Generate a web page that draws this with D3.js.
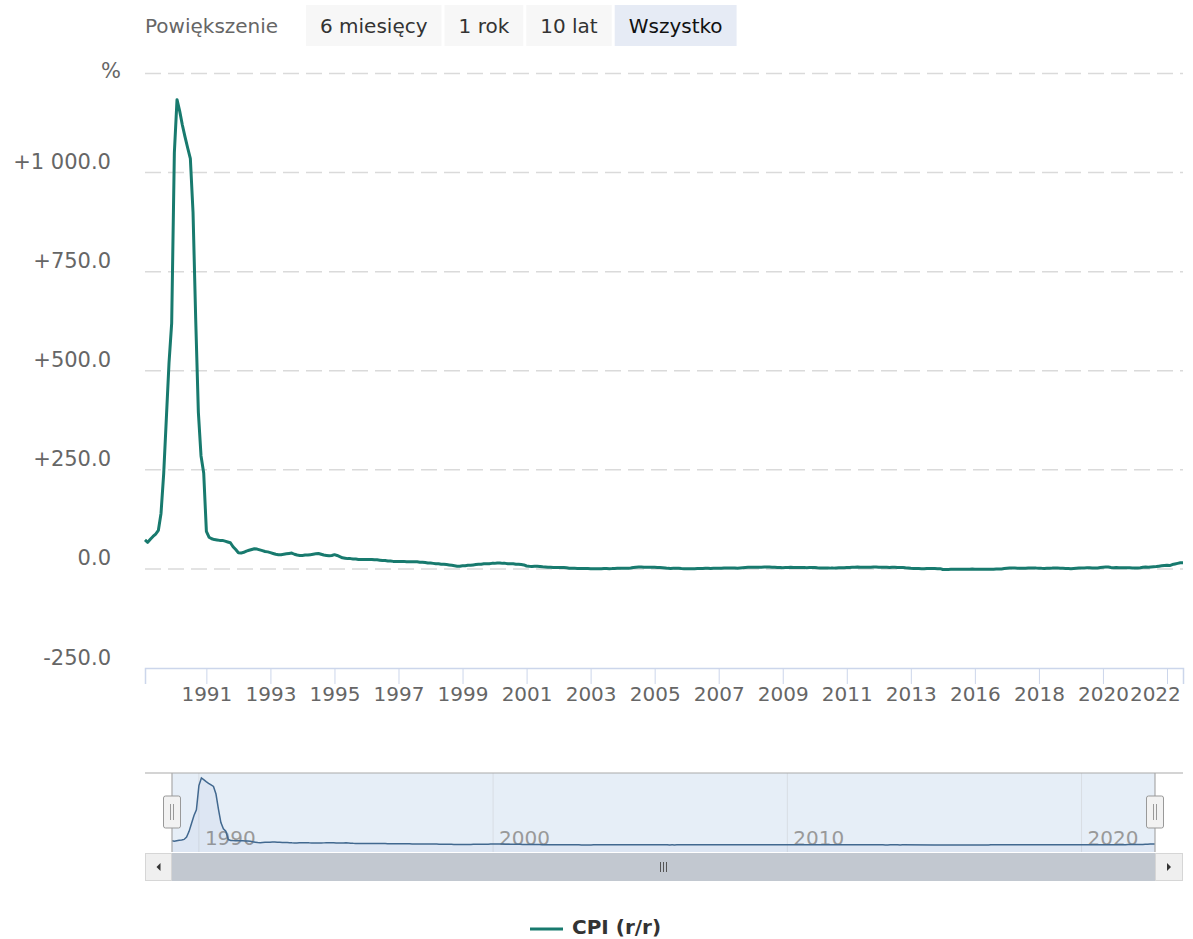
<!DOCTYPE html>
<html><head><meta charset="utf-8">
<script src="https://cdn.jsdelivr.net/npm/d3@7"></script>
<style>
body{margin:0;background:#fff}
svg{display:block}
text{font-family:"DejaVu Sans",sans-serif}
</style>
</head><body>
<svg id="chart" width="1193" height="939"></svg>
<script>
// ---------- DATA ----------
const seriesName = "CPI (r/r)";
const firstMonthOf1989 = 2; // series starts in February 1989
const cpiYears = [1989,1990,1991,1992,1993,1994,1995,1996,1997,1998,1999,2000,2001,2002,2003,2004,2005,2006,2007,2008,2009,2010,2011,2012,2013,2015,2016,2017,2018,2019,2020,2021,2022];
const cpi1989 = [73,67,75,82,88,97,140,240,380,520,620];
const cpi1990 = [1050,1184,1155,1120,1090,1062,1035,900,630,395,285,242];
const cpi1991 = [95,80,76,74,73,72,72,70,68,66,56,49];
const cpi1992 = [41,40,42,45,47,49,51,50,48,46,44,43];
const cpi1993 = [41,39,37,36,36,37,38,39,40,37,35,34];
const cpi1994 = [34,35,35,36,37,38,39,37,35,34,33,34];
const cpi1995 = [36,34,31,28,27,26,26,25,25,24,24,24];
const cpi1996 = [24,24,24,23,23,22,21,21,20,20,19,19];
const cpi1997 = [19,19,19,18,18,18,18,18,17,17,16,15];
const cpi1998 = [15,14,13,13,12,12,11,10,9,8,7,7];
const cpi1999 = [8,8,9,9,10,11,12,12,13,13,13,14];
const cpi2000 = [14,15,15,14,14,13,13,13,12,12,11,10];
const cpi2001 = [7.4,6.6,6.2,6.6,6.9,6.2,5.2,5.1,4.3,4.0,3.6,3.6];
const cpi2002 = [3.5,3.5,3.3,3.0,1.9,1.6,1.4,1.3,1.3,1.1,0.9,0.8];
const cpi2003 = [0.5,0.5,0.6,0.3,0.4,0.8,0.8,0.7,0.9,1.3,1.6,1.7];
const cpi2004 = [1.6,1.6,1.7,2.2,3.4,4.4,4.6,4.6,4.4,4.5,4.5,4.4];
const cpi2005 = [4.0,3.6,3.4,3.0,2.5,1.4,1.3,1.6,1.8,1.6,1.0,0.7];
const cpi2006 = [0.6,0.7,0.4,0.7,0.9,0.8,1.1,1.6,1.6,1.2,1.4,1.4];
const cpi2007 = [1.6,1.9,2.5,2.3,2.3,2.6,2.3,1.5,2.3,3.0,3.6,4.0];
const cpi2008 = [4.3,4.2,4.1,4.0,4.4,4.6,4.8,4.8,4.5,4.2,3.7,3.3];
const cpi2009 = [2.8,3.3,3.6,4.0,3.6,3.5,3.6,3.7,3.4,3.1,3.3,3.5];
const cpi2010 = [3.5,2.9,2.6,2.4,2.2,2.3,2.0,2.0,2.5,2.8,2.7,3.1];
const cpi2011 = [3.6,3.6,4.3,4.5,5.0,4.2,4.1,4.3,3.9,4.3,4.8,4.6];
const cpi2012 = [4.1,4.3,3.9,4.0,3.6,4.3,4.0,3.8,3.8,3.4,2.8,2.4];
const cpi2013 = [1.7,1.3,1.0,0.8,0.5,0.2,1.1,1.1,1.0,0.8,0.6,0.7];
const cpi2015 = [-1.4,-1.6,-1.5,-1.1,-0.9,-0.8,-0.7,-0.6,-0.8,-0.7,-0.6,-0.5];
const cpi2016 = [-0.9,-0.8,-0.9,-1.1,-0.9,-0.8,-0.9,-0.8,-0.5,-0.2,0.0,0.8];
const cpi2017 = [1.7,2.2,2.0,2.0,1.9,1.5,1.7,1.8,2.2,2.1,2.5,2.1];
const cpi2018 = [1.9,1.4,1.3,1.6,1.7,2.0,2.0,2.0,1.9,1.8,1.3,1.1];
const cpi2019 = [0.7,1.2,1.7,2.2,2.4,2.6,2.9,2.9,2.6,2.5,2.6,3.4];
const cpi2020 = [4.3,4.7,4.6,3.4,2.9,3.3,3.0,2.9,3.2,3.1,3.0,2.4];
const cpi2021 = [2.6,2.4,3.2,4.3,4.7,4.4,5.0,5.5,5.9,6.8,7.8,8.6];
const cpi2022 = [9.4,8.5,11.0,12.4,13.9,15.5,15.6];
const cpiRows = [cpi1989,cpi1990,cpi1991,cpi1992,cpi1993,cpi1994,cpi1995,cpi1996,cpi1997,cpi1998,cpi1999,cpi2000,cpi2001,cpi2002,cpi2003,cpi2004,cpi2005,cpi2006,cpi2007,cpi2008,cpi2009,cpi2010,cpi2011,cpi2012,cpi2013,cpi2015,cpi2016,cpi2017,cpi2018,cpi2019,cpi2020,cpi2021,cpi2022];

const yTicks = [-250, 0, 250, 500, 750, 1000, 1250];
const yTopLabel = "%";
const xTickYears = [1991,1993,1995,1997,1999,2001,2003,2005,2007,2009,2011,2013,2016,2018,2020,2022];
const navTickYears = [1990,2000,2010,2020];
const rangeLabel = "Powiększenie";
const rangeButtons = ["6 miesięcy","1 rok","10 lat","Wszystko"];
const selectedButton = 3;

// ---------- BUILD POINTS ----------
const data = [];
cpiYears.forEach((yr, i) => {
  const start = (yr === 1989) ? firstMonthOf1989 - 1 : 0;
  cpiRows[i].forEach((v, j) => data.push({date: new Date(yr, start + j, 1), value: v}));
});
data.forEach((d, i) => d.idx = i);

// ---------- LAYOUT ----------
const plot = {left: 145, right: 1183, top: 73.5, bottom: 668};
const nav = {left: 172, right: 1155, top: 773, bottom: 852};
const lineColor = "#187a6e";
const svg = d3.select("#chart");

// ---------- RANGE SELECTOR ----------
svg.append("text").attr("x", 145).attr("y", 33).attr("fill", "#666").attr("font-size", 20).text(rangeLabel);
let bx = 306;
rangeButtons.forEach((lab, i) => {
  const g = svg.append("g");
  const t = g.append("text").attr("y", 33).attr("font-size", 20)
    .attr("fill", i === selectedButton ? "#111" : "#333").text(lab);
  const tw = t.node().getComputedTextLength();
  const bw = tw + 28;
  g.insert("rect", "text").attr("x", bx).attr("y", 5).attr("width", bw).attr("height", 41)
    .attr("fill", i === selectedButton ? "#e6ebf5" : "#f7f7f7");
  t.attr("x", bx + bw / 2).attr("text-anchor", "middle");
  bx += bw + 3;
});

// ---------- SCALES ----------
const x = d3.scaleLinear().domain([0, data.length - 1]).range([plot.left, plot.right]);
const y = d3.scaleLinear().domain([yTicks[0], yTicks[yTicks.length - 1]]).range([plot.bottom, plot.top]);

const loc = d3.formatLocale({decimal: ".", thousands: " ", grouping: [3], currency: ["", ""], minus: "-"});
const fmtSigned = loc.format("+,.1f");
const fmtPlain = loc.format(",.1f");
const yFmt = v => v === yTicks[yTicks.length - 1] ? yTopLabel : (v > 0 ? fmtSigned(v) : fmtPlain(v));

// gridlines
const grid = svg.append("g");
yTicks.forEach(v => {
  if (v === yTicks[0]) return;
  grid.append("line").attr("x1", plot.left).attr("x2", plot.right)
    .attr("y1", y(v)).attr("y2", y(v))
    .attr("stroke", "#dadada").attr("stroke-width", 1.5).attr("stroke-dasharray", "16,7");
});

// y axis labels
const yAxis = d3.axisLeft(y).tickValues(yTicks).tickFormat(yFmt).tickSize(0).tickPadding(0);
const yg = svg.append("g").attr("transform", `translate(111,0)`).call(yAxis);
yg.select(".domain").remove();
yg.selectAll("text").attr("font-size", 21).attr("fill", "#666")
  .attr("font-family", '"DejaVu Sans",sans-serif')
  .attr("dy", null)
  .attr("y", v => v === yTicks[yTicks.length - 1] ? 4 : -4)
  .attr("x", v => v === yTicks[yTicks.length - 1] ? 10 : 0);

// x axis
const tickIdx = xTickYears.map(yr => data.find(d => d.date.getFullYear() === yr).idx);
const xAxis = d3.axisBottom(x).tickValues(tickIdx)
  .tickFormat(i => String(data[i].date.getFullYear())).tickSize(16).tickPadding(3);
const xg = svg.append("g").attr("transform", `translate(0,${plot.bottom})`).call(xAxis);
xg.select(".domain").attr("stroke", "#ccd6eb").attr("stroke-width", 1.5);
xg.selectAll(".tick line").attr("stroke", "#ccd6eb").attr("stroke-width", 1);
xg.selectAll("text").attr("font-size", 20).attr("fill", "#666")
  .attr("font-family", '"DejaVu Sans",sans-serif');
// justify the last label so it does not run over the previous one / plot edge
let prevRight = -Infinity;
xg.selectAll(".tick").each(function(i) {
  const t = d3.select(this).select("text");
  const w = t.node().getComputedTextLength();
  const cx = x(i);
  let left = cx - w / 2;
  if (left + w > plot.right - 10) left = plot.right - 10 - w;
  if (left < prevRight + 1) left = prevRight + 1;
  t.attr("x", left + w / 2 - cx);
  prevRight = left + w;
});

// main line
const line = d3.line().x(d => x(d.idx)).y(d => y(d.value)).curve(d3.curveLinear);
svg.append("path").datum(data).attr("d", line).attr("fill", "none")
  .attr("stroke", lineColor).attr("stroke-width", 3).attr("stroke-linejoin", "round");

// ---------- NAVIGATOR ----------
const xn = d3.scaleTime().domain(d3.extent(data, d => d.date)).range([nav.left, nav.right]);
const yn = d3.scaleLinear().domain(d3.extent(data, d => d.value)).range([845, 778]);
const ng = svg.append("g");
ng.append("rect").attr("x", nav.left).attr("y", nav.top).attr("width", nav.right - nav.left)
  .attr("height", nav.bottom - nav.top).attr("fill", "#e6eef7");
navTickYears.forEach(yr => {
  const xx = xn(new Date(yr, 0, 1));
  ng.append("line").attr("x1", xx).attr("x2", xx).attr("y1", nav.top).attr("y2", nav.bottom)
    .attr("stroke", "#d8dde4").attr("stroke-width", 1);
  ng.append("text").attr("x", xx + 6).attr("y", 845).attr("font-size", 20).attr("fill", "#999").text(yr);
});
const area = d3.area().x(d => xn(d.date)).y0(nav.bottom).y1(d => yn(d.value));
ng.append("path").datum(data).attr("d", area).attr("fill", "rgba(51,92,173,0.05)");
ng.append("path").datum(data).attr("d", d3.line().x(d => xn(d.date)).y(d => yn(d.value)))
  .attr("fill", "none").attr("stroke", "#41688f").attr("stroke-width", 1.5);
// outline
ng.append("path")
  .attr("d", `M${plot.left},${nav.top}H${plot.right}M${nav.left},${nav.top}V${nav.bottom}M${nav.right},${nav.top}V${nav.bottom}`)
  .attr("stroke", "#aaa").attr("stroke-width", 1.2).attr("fill", "none");
// handles
[nav.left, nav.right].forEach(hx => {
  const g = ng.append("g").attr("transform", `translate(${hx},812)`);
  g.append("rect").attr("x", -8.5).attr("y", -16).attr("width", 17).attr("height", 32).attr("rx", 2)
    .attr("fill", "#f2f2f2").attr("stroke", "#999").attr("stroke-width", 1);
  g.append("path").attr("d", "M-1.5,-8V8M1.5,-8V8").attr("stroke", "#999").attr("stroke-width", 1);
});
// scrollbar
const sb = svg.append("g");
sb.append("rect").attr("x", plot.left).attr("y", 853).attr("width", plot.right - plot.left).attr("height", 28)
  .attr("fill", "#f2f2f2");
sb.append("rect").attr("x", nav.left).attr("y", 853).attr("width", nav.right - nav.left).attr("height", 28)
  .attr("fill", "#c2c8d0");
const mid = (nav.left + nav.right) / 2;
sb.append("path").attr("d", `M${mid - 3},862V872M${mid},862V872M${mid + 3},862V872`)
  .attr("stroke", "#555").attr("stroke-width", 1);
[[plot.left, nav.left, -1], [nav.right, plot.right, 1]].forEach(([a, b, dir]) => {
  sb.append("rect").attr("x", a + 0.5).attr("y", 853.5).attr("width", b - a - 1).attr("height", 27)
    .attr("fill", "#efefef").attr("stroke", "#d6d6d6");
  const cx = (a + b) / 2, cy = 867;
  // dir -1: tip on the left; dir 1: tip on the right
  sb.append("path").attr("d", `M${cx - 2 * dir},${cy - 4}L${cx + 2 * dir},${cy}L${cx - 2 * dir},${cy + 4}Z`)
    .attr("fill", "#333");
});

// ---------- LEGEND ----------
const lg = svg.append("g");
lg.append("line").attr("x1", 530).attr("x2", 563).attr("y1", 929).attr("y2", 929)
  .attr("stroke", lineColor).attr("stroke-width", 3);
lg.append("text").attr("x", 572).attr("y", 934).attr("font-size", 20).attr("font-weight", "bold")
  .attr("fill", "#333").text(seriesName);
</script>
</body></html>
